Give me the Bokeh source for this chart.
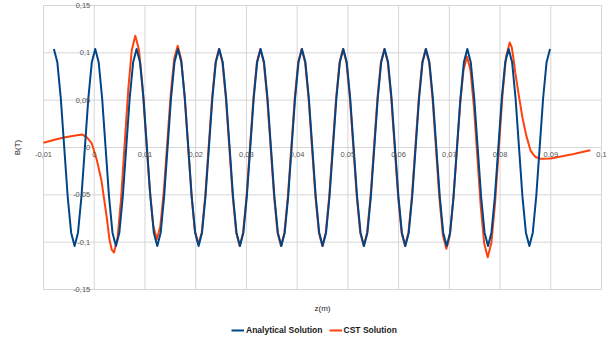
from bokeh.plotting import figure
from bokeh.models import Legend, LegendItem, LabelSet, Label, ColumnDataSource
from bokeh.core.properties import value
from bokeh.embed import file_html
from bokeh.resources import INLINE

# ---------------- data (z in mm, B in T) ----------------
analytical_z_mm = [
    -7.95, -7.27, -6.59, -5.91, -5.23, -4.55, -3.87, -3.20, -2.52, -1.84, -1.16, -0.48,
    0.20, 0.88, 1.56, 2.24, 2.92, 3.60, 4.28, 4.95, 5.63, 6.31, 6.99, 7.67,
    8.35, 9.03, 9.71, 10.39, 11.07, 11.75, 12.43, 13.10, 13.78, 14.46, 15.14, 15.82,
    16.50, 17.18, 17.86, 18.54, 19.22, 19.90, 20.58, 21.25, 21.93, 22.61, 23.29, 23.97,
    24.65, 25.33, 26.01, 26.69, 27.37, 28.05, 28.73, 29.40, 30.08, 30.76, 31.44, 32.12,
    32.80, 33.48, 34.16, 34.84, 35.52, 36.20, 36.88, 37.55, 38.23, 38.91, 39.59, 40.27,
    40.95, 41.63, 42.31, 42.99, 43.67, 44.35, 45.03, 45.70, 46.38, 47.06, 47.74, 48.42,
    49.10, 49.78, 50.46, 51.14, 51.82, 52.50, 53.18, 53.85, 54.53, 55.21, 55.89, 56.57,
    57.25, 57.93, 58.61, 59.29, 59.97, 60.65, 61.33, 62.00, 62.68, 63.36, 64.04, 64.72,
    65.40, 66.08, 66.76, 67.44, 68.12, 68.80, 69.48, 70.15, 70.83, 71.51, 72.19, 72.87,
    73.55, 74.23, 74.91, 75.59, 76.27, 76.95, 77.63, 78.30, 78.98, 79.66, 80.34, 81.02,
    81.70, 82.38, 83.06, 83.74, 84.42, 85.10, 85.78, 86.45, 87.13, 87.81, 88.49, 89.17,
    89.85,
]
analytical_B = [
    0.104, 0.090, 0.052, 0.0, -0.052, -0.090, -0.104, -0.090, -0.052, 0.0, 0.052, 0.090,
    0.104, 0.090, 0.052, 0.0, -0.052, -0.090, -0.104, -0.090, -0.052, 0.0, 0.052, 0.090,
    0.104, 0.090, 0.052, 0.0, -0.052, -0.090, -0.104, -0.090, -0.052, 0.0, 0.052, 0.090,
    0.104, 0.090, 0.052, 0.0, -0.052, -0.090, -0.104, -0.090, -0.052, 0.0, 0.052, 0.090,
    0.104, 0.090, 0.052, 0.0, -0.052, -0.090, -0.104, -0.090, -0.052, 0.0, 0.052, 0.090,
    0.104, 0.090, 0.052, 0.0, -0.052, -0.090, -0.104, -0.090, -0.052, 0.0, 0.052, 0.090,
    0.104, 0.090, 0.052, 0.0, -0.052, -0.090, -0.104, -0.090, -0.052, 0.0, 0.052, 0.090,
    0.104, 0.090, 0.052, 0.0, -0.052, -0.090, -0.104, -0.090, -0.052, 0.0, 0.052, 0.090,
    0.104, 0.090, 0.052, 0.0, -0.052, -0.090, -0.104, -0.090, -0.052, 0.0, 0.052, 0.090,
    0.104, 0.090, 0.052, 0.0, -0.052, -0.090, -0.104, -0.090, -0.052, 0.0, 0.052, 0.090,
    0.104, 0.090, 0.052, 0.0, -0.052, -0.090, -0.104, -0.090, -0.052, 0.0, 0.052, 0.090,
    0.104, 0.090, 0.052, 0.0, -0.052, -0.090, -0.104, -0.090, -0.052, 0.0, 0.052, 0.090,
    0.104,
]

cst_z_mm = [
    -10.0, -8.0, -6.0, -4.0, -2.4, -1.4, -0.5, 0.5, 1.4, 2.5, 3.0, 3.45, 3.9,
    4.6, 5.3, 6.0, 6.7, 7.4, 8.1,
    8.81, 9.52, 10.22, 10.93, 11.64, 12.35,
    13.03, 13.72, 14.40, 15.08, 15.77, 16.45,
    17.13, 17.81, 18.49, 19.16, 19.84, 20.52,
    21.19, 21.87, 22.55, 23.23, 23.91,
    24.59, 25.27, 25.95, 26.63, 27.31, 27.99, 28.67, 29.34, 30.02, 30.70, 31.38, 32.06,
    32.74, 33.42, 34.10, 34.78, 35.46, 36.14, 36.82, 37.49, 38.17, 38.85, 39.53, 40.21,
    40.89, 41.57, 42.25, 42.93, 43.61, 44.29, 44.97, 45.64, 46.32, 47.00, 47.68, 48.36,
    49.04, 49.72, 50.40, 51.08, 51.76, 52.44, 53.12, 53.79, 54.47, 55.15, 55.83, 56.51,
    57.19, 57.87, 58.55, 59.23, 59.91, 60.59, 61.27, 61.94, 62.62, 63.30, 63.98, 64.66,
    65.34, 66.02, 66.70, 67.38, 68.06, 68.74, 69.42,
    70.09, 70.77, 71.45, 72.13, 72.81, 73.49,
    74.17, 74.85, 75.53, 76.21, 76.89, 77.57,
    78.29, 79.01, 79.74, 80.46, 81.18, 81.9,
    82.3, 82.65, 83.0, 83.7, 84.4, 85.2, 86.0, 86.5, 87.0, 88.0,
    90.0, 92.0, 94.0, 96.0, 97.8,
]
cst_B = [
    0.005, 0.008, 0.0105, 0.0125, 0.0138, 0.0105, 0.0045, -0.013, -0.034, -0.075, -0.097, -0.108, -0.111,
    -0.0957, -0.0538, 0.0035, 0.0608, 0.1027, 0.118,
    0.1036, 0.0643, 0.0105, -0.0433, -0.0826, -0.097,
    -0.0833, -0.0459, 0.0053, 0.0564, 0.0938, 0.1075,
    0.0935, 0.0551, 0.0028, -0.0496, -0.0880, -0.102,
    -0.090, -0.052, 0.0, 0.052, 0.090,
    0.104, 0.090, 0.052, 0.0, -0.052, -0.090, -0.104, -0.090, -0.052, 0.0, 0.052, 0.090,
    0.104, 0.090, 0.052, 0.0, -0.052, -0.090, -0.104, -0.090, -0.052, 0.0, 0.052, 0.090,
    0.104, 0.090, 0.052, 0.0, -0.052, -0.090, -0.104, -0.090, -0.052, 0.0, 0.052, 0.090,
    0.104, 0.090, 0.052, 0.0, -0.052, -0.090, -0.104, -0.090, -0.052, 0.0, 0.052, 0.090,
    0.104, 0.090, 0.052, 0.0, -0.052, -0.090, -0.104, -0.090, -0.052, 0.0, 0.052, 0.090,
    0.104, 0.0899, 0.0513, -0.0015, -0.0543, -0.0929, -0.107,
    -0.0934, -0.0563, -0.0055, 0.0453, 0.0824, 0.096,
    0.0818, 0.043, -0.010, -0.063, -0.1018, -0.116,
    -0.1008, -0.0593, -0.0025, 0.0543, 0.0958, 0.111,
    0.106, 0.094, 0.079, 0.055, 0.032, 0.012, -0.003, -0.007, -0.010, -0.012,
    -0.0117, -0.0095, -0.0075, -0.005, -0.003,
]

x_ticks = [-0.01, 0.0, 0.01, 0.02, 0.03, 0.04, 0.05, 0.06, 0.07, 0.08, 0.09, 0.1]
x_tick_labels = ["-0,01", "0", "0,01", "0,02", "0,03", "0,04", "0,05", "0,06", "0,07", "0,08", "0,09", "0,1"]
y_ticks = [-0.15, -0.1, -0.05, 0.0, 0.05, 0.1, 0.15]
y_tick_labels = ["-0,15", "-0,1", "-0,05", "0", "0,05", "0,1", "0,15"]

series_names = ["Analytical Solution", "CST Solution"]
x_title = "z(m)"
y_title = "B(T)"

# ---------------- figure ----------------
GRID = "#d6d6d6"
BLUE = "#004586"
ORANGE = "#ff420e"
FONT = "Liberation Sans"

# Data box (-0.01..0.1, -0.15..0.15) is 558 x 284 px. The drawing frame covers the
# whole canvas so that edge tick labels, both titles and the legend (all drawn
# inside the frame) are not clipped.
PX_X = 558 / (x_ticks[-1] - x_ticks[0])
PX_Y = 284 / (y_ticks[-1] - y_ticks[0])
x_range = (x_ticks[0] - 43 / PX_X, x_ticks[-1] + 7 / PX_X)
y_range = (y_ticks[0] - 50 / PX_Y, y_ticks[-1] + 5 / PX_Y)

p = figure(width=608, height=339,
           x_range=x_range, y_range=y_range,
           x_axis_location=None, y_axis_location=None,
           output_backend="svg", toolbar_location=None,
           min_border_left=0, min_border_right=0,
           min_border_top=0, min_border_bottom=0)
p.background_fill_color = "white"
p.border_fill_color = "white"
p.outline_line_color = None
p.xgrid.visible = False
p.ygrid.visible = False

# grid lines limited to the data box
nx, ny = len(x_ticks), len(y_ticks)
p.segment(x0=x_ticks, y0=[y_ticks[0]] * nx, x1=x_ticks, y1=[y_ticks[-1]] * nx,
          line_color=GRID, line_width=1)
p.segment(x0=[x_ticks[0]] * ny, y0=y_ticks, x1=[x_ticks[-1]] * ny, y1=y_ticks,
          line_color=GRID, line_width=1)

# tick labels placed on the zero lines (axes cross at the origin)
xsrc = ColumnDataSource(dict(x=x_ticks, y=[0.0] * nx, text=x_tick_labels))
ysrc = ColumnDataSource(dict(x=[0.0] * ny, y=y_ticks, text=y_tick_labels))
p.add_layout(LabelSet(x="x", y="y", text="text", source=xsrc,
                      text_align="center", text_baseline="top", y_offset=-4,
                      text_font=value(FONT), text_font_size="7.5px", text_color="#555555"))
p.add_layout(LabelSet(x="x", y="y", text="text", source=ysrc,
                      text_align="right", text_baseline="middle", x_offset=-4,
                      text_font=value(FONT), text_font_size="7.5px", text_color="#555555"))

# axis titles
p.add_layout(Label(x=(x_ticks[0] + x_ticks[-1]) / 2, y=y_ticks[0] - 19 / PX_Y,
                   text=x_title, text_align="center", text_baseline="middle",
                   text_font=FONT, text_font_size="8px", text_color="#222222"))
p.add_layout(Label(x=x_ticks[0] - 26 / PX_X, y=0.0, angle=90, angle_units="deg",
                   text=y_title, text_align="center", text_baseline="middle",
                   text_font=FONT, text_font_size="8px", text_color="#222222"))

cst_z = [v / 1000 for v in cst_z_mm]
ana_z = [v / 1000 for v in analytical_z_mm]
r_cst = p.line(cst_z, cst_B, line_color=ORANGE, line_width=2, line_join="round")
r_ana = p.line(ana_z, analytical_B, line_color=BLUE, line_width=2, line_join="round")

legend = Legend(items=[LegendItem(label=series_names[0], renderers=[r_ana]),
                       LegendItem(label=series_names[1], renderers=[r_cst])],
                orientation="horizontal", location=(231, 4),
                border_line_color=None, background_fill_alpha=0,
                label_text_font=FONT, label_text_font_size="8.5px",
                label_text_font_style="bold", label_text_color="#1a1a1a",
                glyph_width=13, glyph_height=10, label_height=10,
                label_standoff=2, spacing=6, padding=3, margin=0)
p.add_layout(legend, "center")

open("out.html", "w").write(file_html(p, INLINE))
